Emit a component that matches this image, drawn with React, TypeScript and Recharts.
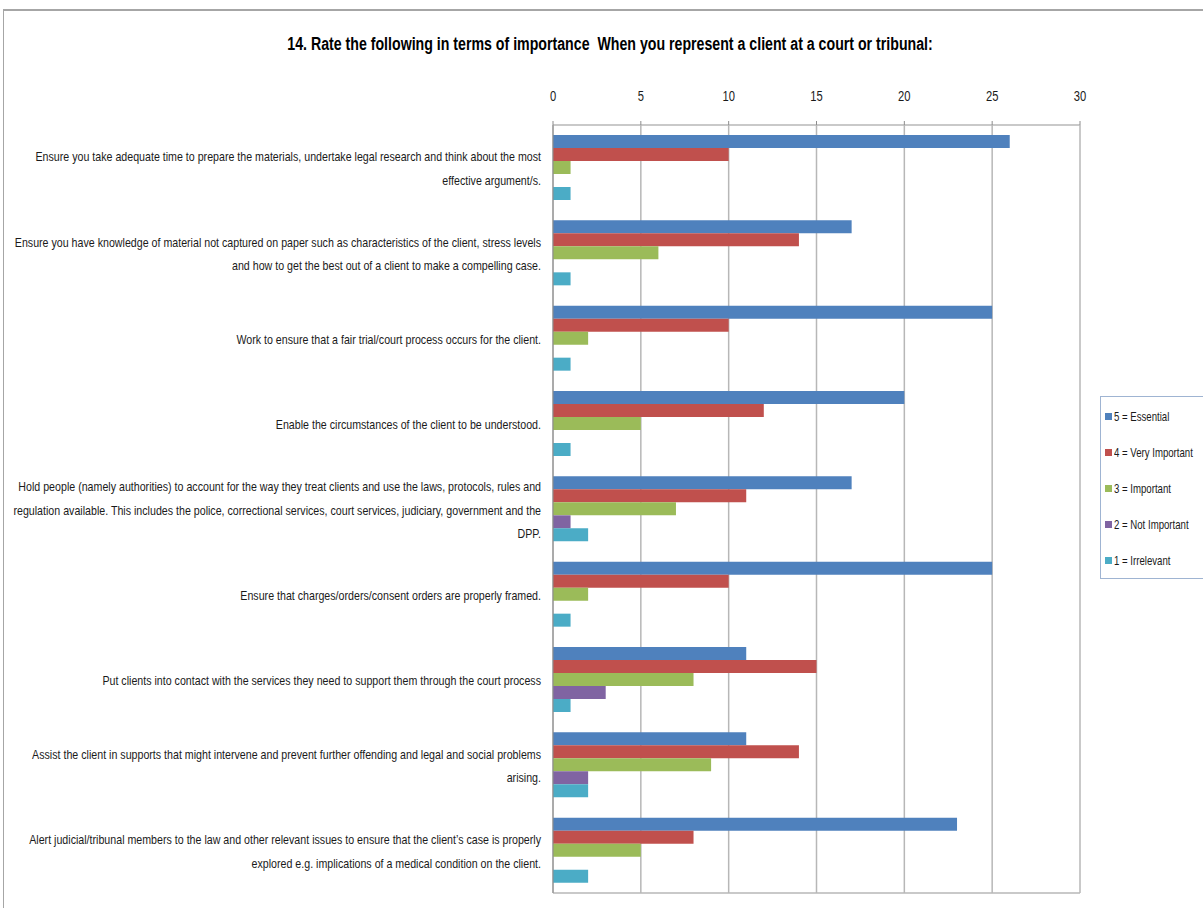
import React from 'react';
import { BarChart, Bar, XAxis, YAxis, CartesianGrid } from 'recharts';

const categoryLines = [
  ['Ensure you take adequate time to prepare the materials, undertake legal research and think about the most', 'effective argument/s.'],
  ['Ensure you have knowledge of material not captured on paper such as characteristics of the client,  stress levels', 'and how to get the best out of a client to make a compelling case.'],
  ['Work to ensure that  a fair trial/court process occurs for the client.'],
  ['Enable the circumstances of the client to be understood.'],
  ['Hold people (namely authorities) to account for the way they treat clients and use the laws,  protocols, rules and', 'regulation available. This includes the police, correctional services, court services, judiciary, government and the', 'DPP.'],
  ['Ensure that charges/orders/consent orders are properly framed.'],
  ['Put clients into contact with the services they need to support them through the court process'],
  ['Assist the client in supports that might intervene and prevent further offending and legal and social problems', 'arising.'],
  ['Alert judicial/tribunal members to the law and other relevant issues to ensure that the client\u2019s case is properly', 'explored e.g. implications  of a medical condition on the client.'],
];

const essential = [26, 17, 25, 20, 17, 25, 11, 11, 23];
const veryImportant = [10, 14, 10, 12, 11, 10, 15, 14, 8];
const important = [1, 6, 2, 5, 7, 2, 8, 9, 5];
const notImportant = [0, 0, 0, 0, 1, 0, 3, 2, 0];
const irrelevant = [1, 1, 1, 1, 2, 1, 1, 2, 2];

const xTicks = [0, 5, 10, 15, 20, 25, 30];

const series = [
  { key: 'essential', label: '5 = Essential', color: '#4f81bd', values: essential },
  { key: 'veryImportant', label: '4 = Very Important', color: '#c0504d', values: veryImportant },
  { key: 'important', label: '3 = Important', color: '#9bbb59', values: important },
  { key: 'notImportant', label: '2 = Not Important', color: '#8064a2', values: notImportant },
  { key: 'irrelevant', label: '1 = Irrelevant', color: '#4bacc6', values: irrelevant },
];

const data = categoryLines.map((lines, i) => {
  const row: any = { name: lines.join(' ') };
  series.forEach((s) => { row[s.key] = s.values[i]; });
  return row;
});

const FONT = '"Liberation Sans", Arial, sans-serif';

// labels sit right-aligned left of the axis, wrapped like the original
const CategoryTick = (props: any) => {
  const { x, y, payload } = props;
  const lines = categoryLines[payload.index] || [payload.value];
  const lh = 23.5;
  const start = -((lines.length - 1) * lh) / 2;
  return (
    <g transform={`translate(${x - 4},${y + 1}) scale(0.82,1)`}>
      <text textAnchor="end" fontSize={13} fill="#1a1a1a" fontFamily={FONT}>
        {lines.map((l, i) => (
          <tspan key={i} x={0} y={start + i * lh} dy="0.35em">{l}</tspan>
        ))}
      </text>
    </g>
  );
};

const ValueTick = (props: any) => {
  const { x, y, payload } = props;
  return (
    <g transform={`translate(${x},${y})`}>
      <text textAnchor="middle" fontSize={14} fill="#1a1a1a" fontFamily={FONT} transform="scale(0.8,1)">
        {payload.value}
      </text>
    </g>
  );
};

export default function App() {
  return (
    <div style={{ position: 'absolute', left: 0, top: 0, width: 1203, height: 908, background: '#fff', overflow: 'hidden' }}>
      <div style={{ position: 'absolute', left: 3, top: 9, width: 1260, height: 960, borderTop: '2px solid #a6a6a6', borderLeft: '1px solid #a6a6a6' }} />
      <div
        style={{
          position: 'absolute', left: 0, top: 34, width: 1220, textAlign: 'center',
          fontFamily: FONT, fontWeight: 'bold', fontSize: 18, color: '#000',
          transform: 'scaleX(0.787)', whiteSpace: 'pre',
        }}
      >
        {'14. Rate the following in terms of importance  When you represent a client at a court or tribunal:'}
      </div>
      <BarChart
        width={1203}
        height={908}
        data={data}
        layout="vertical"
        margin={{ top: 85, right: 123, bottom: 15, left: 0 }}
        barCategoryGap={10}
        barGap={0}
        style={{ position: 'absolute', left: 0, top: 0 }}
      >
        <CartesianGrid stroke="#b7b7b7" strokeWidth={1.5} horizontalPoints={[125, 893]} />
        <XAxis
          type="number"
          orientation="top"
          domain={[0, 30]}
          ticks={xTicks}
          tick={<ValueTick />}
          tickLine={{ stroke: '#8c8c8c' }}
          tickSize={4}
          tickMargin={20}
          axisLine={false}
          height={40}
        />
        <YAxis
          type="category"
          dataKey="name"
          width={553}
          tick={<CategoryTick />}
          tickLine={false}
          axisLine={{ stroke: '#8c8c8c' }}
          interval={0}
        />
        {series.map((s) => (
          <Bar key={s.key} dataKey={s.key} fill={s.color} isAnimationActive={false} />
        ))}
      </BarChart>
      <div
        style={{
          position: 'absolute', left: 1100, top: 396, width: 120, height: 181,
          border: '1px solid #9fb4d2', background: '#fff',
        }}
      >
        {series.map((s, i) => (
          <div key={s.key} style={{ position: 'absolute', left: 4, top: 12 + i * 36, display: 'flex', alignItems: 'center', whiteSpace: 'nowrap' }}>
            <span style={{ width: 7, height: 7, background: s.color, display: 'inline-block', marginRight: 2 }} />
            <span style={{ fontFamily: FONT, fontSize: 13, color: '#1a1a1a', transform: 'scaleX(0.74)', transformOrigin: 'left center', display: 'inline-block' }}>
              {s.label}
            </span>
          </div>
        ))}
      </div>
    </div>
  );
}
